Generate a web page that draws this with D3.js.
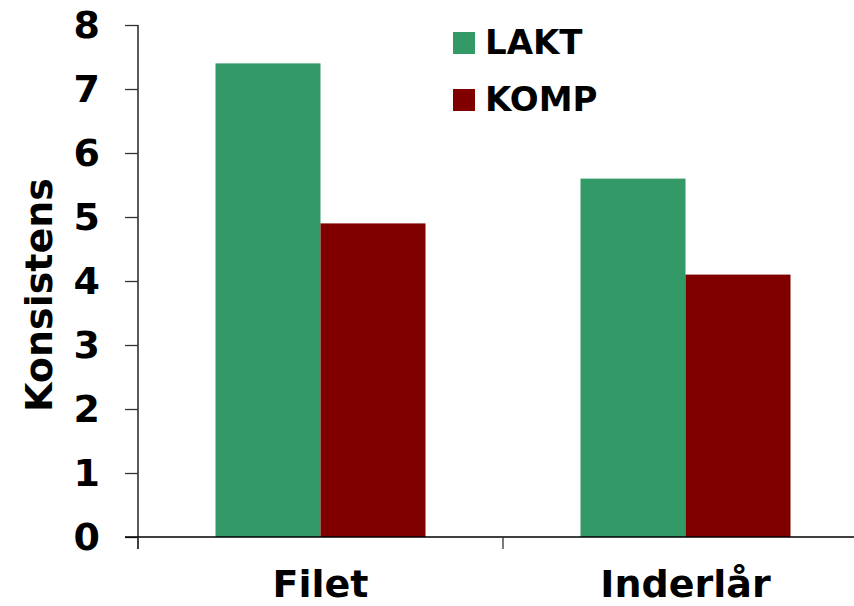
<!DOCTYPE html>
<html>
<head>
<meta charset="utf-8">
<script src="https://cdn.jsdelivr.net/npm/d3@7"></script>
<style>
  html, body { margin: 0; padding: 0; background: #fff; }
  svg { display: block; }
  text { font-family: "DejaVu Sans", Verdana, sans-serif; font-weight: bold; fill: #000; }
</style>
</head>
<body>
<svg id="chart" width="854" height="606"></svg>
<script>
// Consistency scores per cut and feeding group
const categories = ["Filet", "Inderlår"];
const seriesNames = ["LAKT", "KOMP"];
const laktValues = [7.4, 5.6];
const kompValues = [4.9, 4.1];
const yTicks = [0, 1, 2, 3, 4, 5, 6, 7, 8];
const colors = ["#339966", "#800000"];
const yTitle = "Konsistens";

const series = [laktValues, kompValues];

const svg = d3.select("#chart");
const plotLeft = 138, plotTop = 25, plotBottom = 537;
const bandWidth = 365;

const x = d3.scaleBand()
  .domain(categories)
  .range([plotLeft, plotLeft + bandWidth * categories.length])
  .paddingInner(0)
  .paddingOuter(0);

const y = d3.scaleLinear().domain([0, 8]).range([plotBottom, plotTop]);

const groupWidth = 210;
const xInner = d3.scaleBand()
  .domain(seriesNames)
  .range([0, groupWidth]);

// Bars
categories.forEach((cat, ci) => {
  const gx = x(cat) + (x.bandwidth() - groupWidth) / 2;
  seriesNames.forEach((s, si) => {
    const v = series[si][ci];
    svg.append("rect")
      .attr("x", gx + xInner(s))
      .attr("y", y(v))
      .attr("width", xInner.bandwidth())
      .attr("height", y(0) - y(v))
      .attr("fill", colors[si]);
  });
});

// Y axis
const yAxis = svg.append("g")
  .attr("transform", `translate(${plotLeft},0)`)
  .call(d3.axisLeft(y).tickValues(yTicks).tickSize(13).tickPadding(25).tickFormat(d3.format("d")));
yAxis.select(".domain").attr("stroke", "#000").attr("stroke-width", 1.3)
  .attr("d", `M0,${plotTop}V${plotBottom + 12}`);
yAxis.selectAll(".tick line").attr("stroke", "#333").attr("stroke-width", 1.3);
yAxis.selectAll(".tick text")
  .attr("font-size", 38)
  .attr("font-family", "'DejaVu Sans', Verdana, sans-serif")
  .attr("font-weight", "bold")
  .attr("fill", "#000")
  .attr("dy", "0.33em");

// X axis
const xAxis = svg.append("g")
  .attr("transform", `translate(0,${plotBottom})`)
  .call(d3.axisBottom(x).tickSize(0).tickPadding(33));
xAxis.select(".domain").attr("stroke", "#000").attr("stroke-width", 1.5)
  .attr("d", `M${plotLeft - 13},0H854`);
xAxis.selectAll(".tick text")
  .attr("font-size", 38)
  .attr("font-family", "'DejaVu Sans', Verdana, sans-serif")
  .attr("font-weight", "bold")
  .attr("fill", "#000")
  .attr("dy", "0.71em");
// Category boundary ticks
const boundaries = d3.range(categories.length + 1).map(i => plotLeft + i * x.bandwidth());
xAxis.selectAll(".boundary")
  .data(boundaries)
  .join("line")
  .attr("class", "boundary")
  .attr("x1", d => d).attr("x2", d => d)
  .attr("y1", 0).attr("y2", 12)
  .attr("stroke", "#333").attr("stroke-width", 1.3);

// Y axis title
svg.append("text")
  .attr("transform", `translate(52,295) rotate(-90)`)
  .attr("text-anchor", "middle")
  .attr("font-size", 38)
  .text(yTitle);

// Legend
const legend = svg.append("g").attr("transform", "translate(453,32)");
seriesNames.forEach((s, i) => {
  const g = legend.append("g").attr("transform", `translate(0,${i * 57})`);
  g.append("rect").attr("width", 22).attr("height", 22).attr("fill", colors[i]);
  g.append("text").attr("x", 32).attr("y", 22).attr("font-size", 34).text(s);
});
</script>
</body>
</html>
